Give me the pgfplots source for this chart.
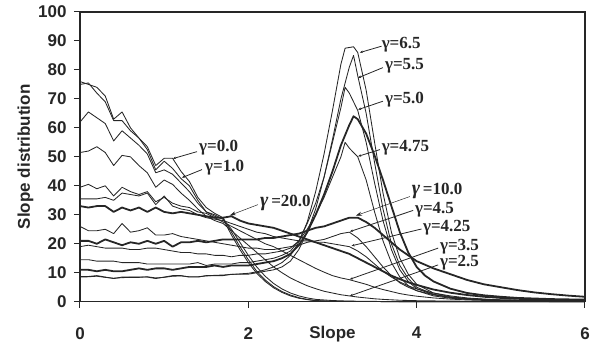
\documentclass[border=0pt]{standalone}
\usepackage{fontspec}
\setmainfont{Liberation Sans}
\newfontfamily\serifb{Liberation Serif}
\usepackage{pgfplots}
\pgfplotsset{compat=1.18}
\usetikzlibrary{arrows.meta}

\definecolor{ink}{HTML}{262626}

\tikzset{
  thin curve/.style={ink, line width=0.85pt, line join=round},
  thick curve/.style={ink, line width=1.8pt, line join=round},
  tag/.style={font=\serifb\bfseries\fontsize{17}{20}\selectfont, anchor=west, inner sep=0pt, text=ink},
  pointer/.style={ink, line width=0.8pt, -{Stealth[length=3pt,width=2.5pt]}},
  thin pointer/.style={ink, line width=0.5pt, -{Stealth[length=6pt,width=4pt]}},
}

\begin{document}
\begin{tikzpicture}
\useasboundingbox (-80pt,-41.3pt) rectangle (518pt,301.7pt);
\begin{axis}[
  scale only axis,
  width=505pt, height=289.7pt,
  xmin=0, xmax=6, ymin=0, ymax=100,
  xtick={0,2,4,6}, ytick={0,10,...,100},
  axis line style={ink, line width=1.3pt},
  tick style={ink, line width=1pt},
  tick align=outside, tick pos=left,
  major tick length=6pt,
  ticklabel style={font=\fontsize{17}{20}\selectfont\bfseries, text=ink},
  /pgf/number format/assume math mode=true,
  xticklabel style={yshift=-16pt},
  yticklabel style={xshift=-4pt},
  xlabel={Slope}, ylabel={Slope distribution},
  label style={font=\fontsize{17}{20}\selectfont\bfseries, text=ink},
  xlabel style={at={(axis description cs:0.5,-0.112)}, anchor=center},
  ylabel style={at={(axis description cs:-0.108,0.5)}, anchor=center},
  clip=false,
]

% gamma = 0.0
\addplot[thin curve] coordinates {
(0,76) (0.1,75) (0.2,74) (0.3,71) (0.4,63) (0.5,65.5) (0.6,60) (0.7,56.5) (0.8,53.5) (0.9,47)
(1.0,49.5) (1.1,49.5) (1.2,45) (1.3,41.5) (1.4,36) (1.5,32.5) (1.6,30.5) (1.7,29) (1.8,24) (1.9,19)
(2.0,14.5) (2.1,10.5) (2.2,7.5) (2.3,5.2) (2.4,3.5) (2.5,2.3) (2.6,1.4) (2.7,0.8) (2.8,0.4) (3.0,0.15)
(3.5,0.05) (4,0) (6,0)};
% gamma = 1.0
\addplot[thin curve] coordinates {
(0,75) (0.1,75.5) (0.2,72) (0.3,69) (0.4,62.5) (0.5,62.5) (0.6,59) (0.7,56.5) (0.8,52.5) (0.9,45.5)
(1.0,48.5) (1.1,46) (1.2,42.5) (1.3,40) (1.4,35) (1.5,31) (1.6,30) (1.7,28.5) (1.8,23) (1.9,18)
(2.0,13.5) (2.1,9.8) (2.2,7) (2.3,4.8) (2.4,3.2) (2.5,2.0) (2.6,1.2) (2.7,0.7) (2.8,0.35) (3.0,0.1)
(4,0) (6,0)};
% gamma = 2.0
\addplot[thin curve] coordinates {
(0,62) (0.1,65.5) (0.2,63.5) (0.3,61.5) (0.4,55.5) (0.5,59) (0.6,56.5) (0.7,54) (0.8,51) (0.9,44.5)
(1.0,45.5) (1.1,44) (1.2,41) (1.3,38) (1.4,34) (1.5,31) (1.6,29.5) (1.7,28.5) (1.8,25) (1.9,20.5)
(2.0,16) (2.1,12) (2.2,8.8) (2.3,6.3) (2.4,4.4) (2.5,3) (2.6,2) (2.7,1.3) (2.8,0.8) (3.0,0.4)
(3.2,0.2) (3.5,0.1) (4,0) (6,0)};
% gamma = 2.5
\addplot[thin curve] coordinates {
(0,51.5) (0.1,52) (0.2,53.5) (0.3,51.5) (0.4,47) (0.5,50.5) (0.6,50) (0.7,47) (0.8,44.5) (0.9,39.5)
(1.0,42) (1.1,40.5) (1.2,37.5) (1.3,35) (1.4,32) (1.5,29.5) (1.6,28) (1.7,27) (1.8,24.5) (1.9,22)
(2.0,19.5) (2.1,17) (2.2,14.5) (2.3,12) (2.4,10) (2.5,8.2) (2.6,6.8) (2.7,5.5) (2.8,4.5) (2.9,3.6)
(3.0,3) (3.1,2.4) (3.2,2) (3.3,1.6) (3.4,1.3) (3.5,1) (3.6,0.8) (3.8,0.5) (4.0,0.35) (4.4,0.2)
(5,0.1) (6,0)};
% gamma = 3.5
\addplot[thin curve] coordinates {
(0,39.5) (0.1,40.5) (0.2,39) (0.3,40) (0.4,36.5) (0.5,39.5) (0.6,38) (0.7,37) (0.8,38) (0.9,34.5)
(1.0,36) (1.1,34) (1.2,33) (1.3,32.5) (1.4,31) (1.5,30.5) (1.6,29) (1.7,27.5) (1.8,26) (1.9,24.5)
(2.0,23) (2.1,21.5) (2.2,20) (2.3,19) (2.4,17.5) (2.5,16) (2.6,14.5) (2.7,13) (2.8,11.5) (2.9,10.2)
(3.0,9) (3.1,8.2) (3.2,7.6) (3.3,6.8) (3.4,6) (3.5,5) (3.6,4.2) (3.7,3.5) (3.8,2.8) (3.9,2.3)
(4.0,1.9) (4.2,1.3) (4.4,0.9) (4.6,0.6) (4.8,0.45) (5,0.35) (5.5,0.2) (6,0.1)};
% gamma = 4.25
\addplot[thin curve] coordinates {
(0,35.5) (0.1,35.5) (0.2,35.5) (0.3,36) (0.4,35) (0.5,37.5) (0.6,37) (0.7,36.5) (0.8,37.5) (0.9,33.5)
(1.0,36.5) (1.1,33) (1.2,32) (1.3,31.5) (1.4,30) (1.5,29) (1.6,28.5) (1.7,28) (1.8,27) (1.9,26)
(2.0,25) (2.1,24) (2.2,23.5) (2.3,22.5) (2.4,22) (2.5,21.5) (2.6,21) (2.7,21) (2.8,20.5) (2.9,20.5)
(3.0,20) (3.1,19.5) (3.2,19) (3.3,17.5) (3.4,15.5) (3.5,13) (3.6,10.5) (3.7,8.5) (3.8,6.8) (3.9,5.5)
(4.0,4.4) (4.2,3) (4.4,2) (4.6,1.3) (4.8,0.9) (5,0.6) (5.5,0.3) (6,0.15)};
% gamma = 20.0
\addplot[thick curve] coordinates {
(0,33) (0.1,32.5) (0.2,33) (0.3,33) (0.4,31) (0.5,32.5) (0.6,31.5) (0.7,32.5) (0.8,31) (0.9,32.5)
(1.0,31) (1.1,30.5) (1.2,31) (1.3,30.5) (1.4,30) (1.5,29.5) (1.6,29) (1.7,29) (1.8,29.5) (1.9,28)
(2.0,27) (2.1,26.5) (2.2,26) (2.3,25.5) (2.4,24.5) (2.5,23.5) (2.6,22.5) (2.7,21.5) (2.8,20.5) (2.9,19.5)
(3.0,18.5) (3.1,17.5) (3.2,16.5) (3.3,15) (3.4,13.5) (3.5,12) (3.6,10.5) (3.7,9) (3.8,7.8) (3.9,6.7)
(4.0,5.8) (4.2,4.2) (4.4,3.1) (4.6,2.3) (4.8,1.7) (5.0,1.3) (5.2,1) (5.4,0.8) (5.6,0.6) (5.8,0.5) (6,0.4)};
% gamma = 4.5
\addplot[thin curve] coordinates {
(0,26) (0.1,24.5) (0.2,24.5) (0.3,25) (0.4,23.5) (0.5,27) (0.6,24) (0.7,24.5) (0.8,25.5) (0.9,23)
(1.0,23) (1.1,23.5) (1.2,22.5) (1.3,22) (1.4,21.5) (1.5,21) (1.6,20.5) (1.7,20) (1.8,19.5) (1.9,19)
(2.0,18.5) (2.1,18.5) (2.2,18) (2.3,18) (2.4,18.5) (2.5,19) (2.6,19.5) (2.7,20.5) (2.8,21) (2.9,21.5)
(3.0,22.5) (3.1,23.5) (3.2,24) (3.3,22) (3.4,19) (3.5,15.5) (3.6,12) (3.7,9) (3.8,6.5) (3.9,5)
(4.0,3.8) (4.2,2.4) (4.4,1.5) (4.6,1) (4.8,0.7) (5,0.5) (5.5,0.25) (6,0.1)};
% gamma = 10.0
\addplot[thick curve] coordinates {
(0,21) (0.1,21) (0.2,20) (0.3,21.5) (0.4,20.5) (0.5,19.5) (0.6,20.5) (0.7,20) (0.8,21) (0.9,20)
(1.0,21) (1.1,19) (1.2,20.5) (1.3,20.5) (1.4,21) (1.5,20.5) (1.6,21) (1.7,21.5) (1.8,21.5) (1.9,21.5)
(2.0,21.5) (2.1,21.5) (2.2,22) (2.3,22) (2.4,22.5) (2.5,23) (2.6,23.5) (2.7,24.5) (2.8,25.5) (2.9,26)
(3.0,27) (3.1,28) (3.2,29) (3.3,29) (3.4,27.5) (3.5,25.5) (3.6,23) (3.7,20.5) (3.8,18) (3.9,16)
(4.0,14) (4.2,11.5) (4.4,9.5) (4.6,7.5) (4.8,6) (5.0,5) (5.2,4) (5.4,3.2) (5.6,2.6) (5.8,2.1) (6.0,1.7)};
% gamma = 4.75
\addplot[thin curve] coordinates {
(0,19) (0.1,19.5) (0.2,19) (0.3,18.5) (0.4,18.5) (0.5,18.5) (0.6,18) (0.7,18) (0.8,18.5) (0.9,18.5)
(1.0,18) (1.1,17.5) (1.2,17) (1.3,17) (1.4,16.5) (1.5,16.5) (1.6,16) (1.7,16) (1.8,15.5) (1.9,16)
(2.0,16) (2.1,16.5) (2.2,16.5) (2.3,17) (2.4,17.5) (2.5,18.5) (2.6,21) (2.7,25) (2.8,30) (2.9,36)
(3.0,43) (3.1,50) (3.15,55) (3.2,53) (3.3,50) (3.4,42) (3.5,31) (3.6,21) (3.7,13.5) (3.8,8.5)
(3.9,5.5) (4.0,3.8) (4.2,2) (4.4,1.2) (4.6,0.8) (5,0.4) (6,0.1)};
% gamma = 5.0
\addplot[thin curve] coordinates {
(0,14.5) (0.1,14.5) (0.2,14) (0.3,14) (0.4,14) (0.5,13.5) (0.6,13.5) (0.7,13.5) (0.8,13) (0.9,13)
(1.0,13) (1.1,13) (1.2,13) (1.3,13) (1.4,13.5) (1.5,12.5) (1.6,13) (1.7,13) (1.8,13) (1.9,13.5)
(2.0,13.5) (2.1,14) (2.2,14.5) (2.3,15) (2.4,16) (2.5,17.5) (2.6,21) (2.7,27) (2.8,34) (2.9,43)
(3.0,55) (3.1,67) (3.15,74) (3.2,72) (3.3,66) (3.4,55) (3.5,41) (3.6,28) (3.7,18) (3.8,11)
(3.9,7) (4.0,4.5) (4.2,2.4) (4.4,1.4) (4.6,0.9) (5,0.5) (6,0.15)};
% gamma = 6.0
\addplot[thick curve] coordinates {
(0,11) (0.1,11) (0.2,10.5) (0.3,11) (0.4,10.5) (0.5,10.5) (0.6,11) (0.7,11.5) (0.8,11) (0.9,11.5)
(1.0,11.5) (1.1,11) (1.2,11.5) (1.3,12) (1.4,12) (1.5,12) (1.6,12.5) (1.7,12) (1.8,12.5) (1.9,12.5)
(2.0,12.5) (2.1,13) (2.2,13.5) (2.3,14) (2.4,15) (2.5,16.5) (2.6,19.5) (2.7,24) (2.8,30) (2.9,37)
(3.0,45) (3.1,54) (3.2,61) (3.25,64) (3.3,63) (3.4,58) (3.5,50.5) (3.6,42) (3.7,33) (3.8,24)
(3.9,17) (4.0,12) (4.1,9) (4.2,7) (4.4,4.5) (4.6,3) (4.8,2.2) (5.0,1.7) (5.2,1.3) (5.4,1.1)
(5.6,0.9) (5.8,0.8) (6,0.7)};
% gamma = 5.5
\addplot[thin curve] coordinates {
(0,8.7) (0.1,8.7) (0.2,9) (0.3,8.5) (0.4,8) (0.5,8.5) (0.6,8.5) (0.7,8.5) (0.8,8.5) (0.9,8)
(1.0,8.5) (1.1,9) (1.2,9) (1.3,8.5) (1.4,8.5) (1.5,9) (1.6,9) (1.7,9) (1.8,9.5) (1.9,9.5)
(2.0,9.5) (2.1,10) (2.2,10.5) (2.3,11) (2.4,12) (2.5,14) (2.6,18) (2.7,24) (2.8,32) (2.9,43)
(3.0,56) (3.1,70) (3.2,81) (3.25,85) (3.3,78) (3.4,65) (3.5,48) (3.6,32) (3.7,20) (3.8,12.5)
(3.9,8) (4.0,5) (4.2,2.6) (4.4,1.5) (4.6,1) (5,0.5) (6,0.15)};
% gamma = 6.5
\addplot[thin curve] coordinates {
(0,8.5) (0.1,8.6) (0.2,8.8) (0.3,8.4) (0.4,8.1) (0.5,8.3) (0.6,8.4) (0.7,8.4) (0.8,8.6) (0.9,8.2)
(1.0,8.4) (1.1,8.8) (1.2,8.9) (1.3,8.6) (1.4,8.6) (1.5,8.9) (1.6,9.1) (1.7,9.2) (1.8,9.4) (1.9,9.6)
(2.0,9.8) (2.1,10.3) (2.2,11) (2.3,12) (2.4,13.5) (2.5,16) (2.6,20.5) (2.7,27.5) (2.8,38) (2.9,51)
(3.0,66) (3.1,82) (3.15,87.5) (3.25,88) (3.3,86) (3.4,73) (3.5,55) (3.6,37.5) (3.7,24) (3.8,15)
(3.9,9.5) (4.0,6) (4.2,3) (4.4,1.7) (4.6,1.1) (5,0.6) (6,0.2)};

% labels with leader arrows
\draw[pointer] (axis cs:1.39,51.8) -- (axis cs:1.105,49.4);
\node[tag] at (axis cs:1.413,53.2) {γ=0.0};
\draw[pointer] (axis cs:1.449,45.6) -- (axis cs:1.211,42.8);
\node[tag] at (axis cs:1.485,46.3) {γ=1.0};
\draw[thin pointer] (axis cs:2.114,33.5) -- (axis cs:1.781,29.8);
\node[tag] at (axis cs:2.138,34.2) {{\itshape\fontsize{20}{20}\selectfont γ}\,=20.0};

\draw[pointer] (axis cs:3.583,88.2) -- (axis cs:3.325,86.0);
\node[tag] at (axis cs:3.583,88.6) {γ=6.5};
\draw[pointer] (axis cs:3.599,80.8) -- (axis cs:3.305,77.3);
\node[tag] at (axis cs:3.622,81.3) {γ=5.5};
\draw[pointer] (axis cs:3.599,69.2) -- (axis cs:3.305,66.3);
\node[tag] at (axis cs:3.622,69.8) {γ=5.0};
\draw[pointer] (axis cs:3.563,52.5) -- (axis cs:3.305,50.2);
\node[tag] at (axis cs:3.583,53.1) {γ=4.75};
\draw[thin pointer] (axis cs:3.919,36.3) -- (axis cs:3.278,29.7);
\node[tag] at (axis cs:3.94,38.3) {{\itshape\fontsize{20}{20}\selectfont γ}\,=10.0};
\draw[pointer] (axis cs:3.958,31.5) -- (axis cs:3.207,24.2);
\node[tag] at (axis cs:3.979,31.7) {γ=4.5};
\draw[pointer] (axis cs:4.058,25.1) -- (axis cs:3.227,19.3);
\node[tag] at (axis cs:4.074,25.6) {γ=4.25};
\draw[pointer] (axis cs:4.255,18.5) -- (axis cs:3.207,7.75);
\node[tag] at (axis cs:4.276,19.0) {γ=3.5};
\draw[pointer] (axis cs:4.255,12.7) -- (axis cs:3.207,2.0);
\node[tag] at (axis cs:4.276,13.3) {γ=2.5};
\end{axis}
\end{tikzpicture}
\end{document}
